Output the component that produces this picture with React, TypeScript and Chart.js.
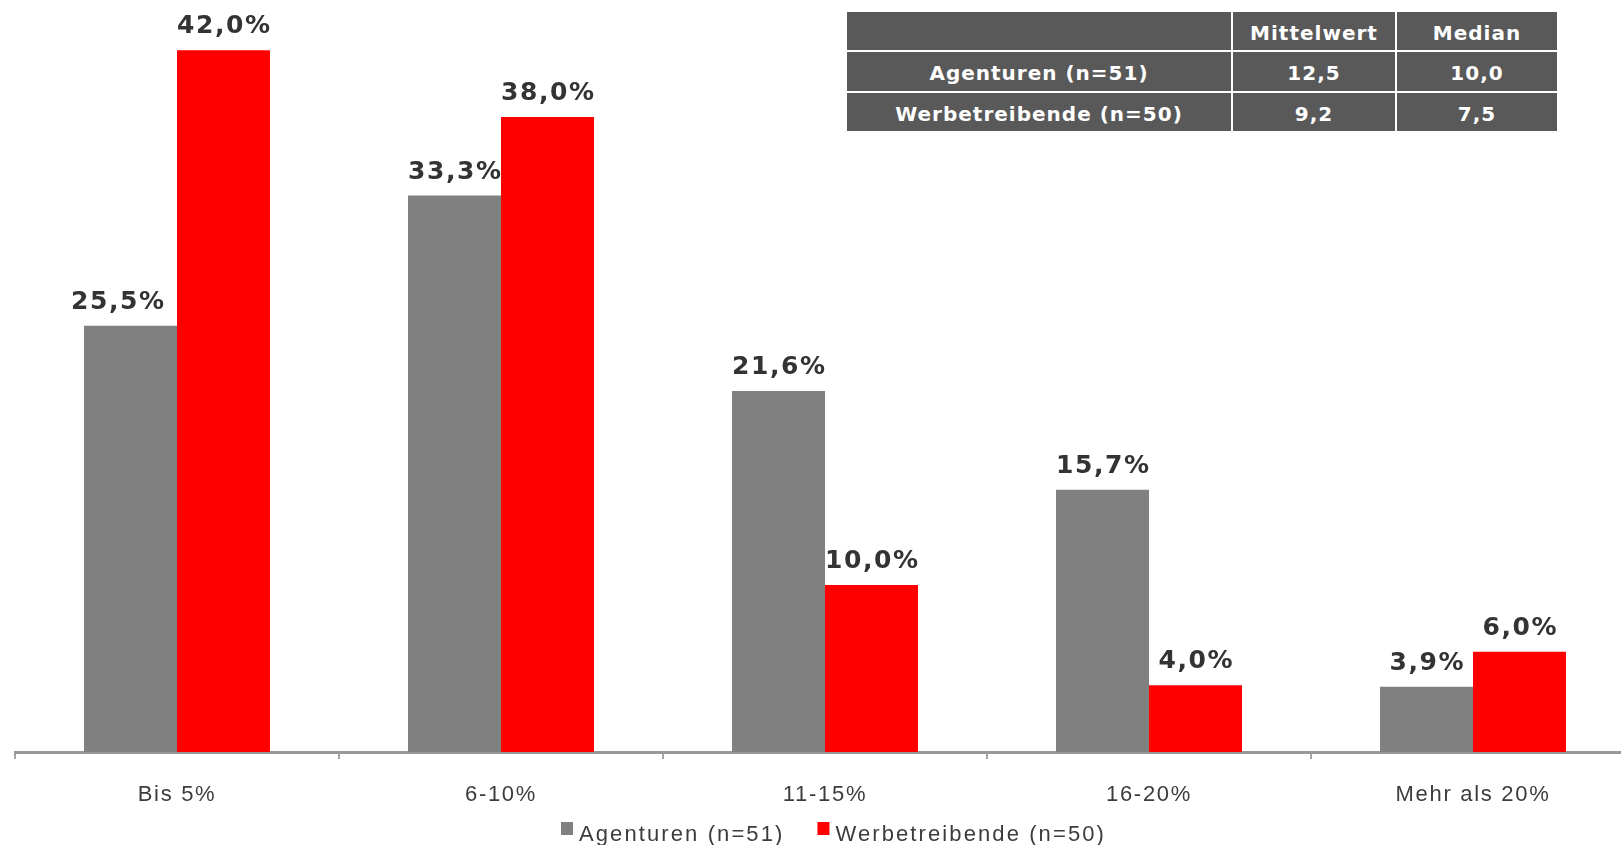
import React, { useEffect, useRef } from "react";
import { Chart, registerables } from "chart.js";

Chart.register(...registerables);

// ---- data ----
const categories = ["Bis 5%", "6-10%", "11-15%", "16-20%", "Mehr als 20%"];
const agenturenLabel = "Agenturen (n=51)";
const werbeLabel = "Werbetreibende (n=50)";
const agenturenValues = [25.5, 33.3, 21.6, 15.7, 3.9];
const werbeValues = [42.0, 38.0, 10.0, 4.0, 6.0];

const tableHeader = ["", "Mittelwert", "Median"];
const tableGroups = ["Agenturen (n=51)", "Werbetreibende (n=50)"];
const tableMean = ["12,5", "9,2"];
const tableMedian = ["10,0", "7,5"];

// ---- layout constants ----
const CANVAS_W = 1667;
const CANVAS_H = 845;
const TICK_FONT = "'Liberation Sans', Arial, sans-serif";
const LABEL_FONT = "'DejaVu Sans', Verdana, sans-serif";

const spacingPlugin = {
  id: "spacingPlugin",
  beforeLayout(chart: any) {
    chart.ctx.letterSpacing = "1.7px";
  },
  beforeDraw(chart: any) {
    chart.ctx.letterSpacing = "1.7px";
  },
};

const valueLabels = {
  id: "valueLabels",
  afterDatasetsDraw(chart: any) {
    const ctx = chart.ctx;
    ctx.save();
    ctx.font = `bold 25px ${LABEL_FONT}`;
    ctx.fillStyle = "#333333";
    ctx.textAlign = "center";
    ctx.textBaseline = "alphabetic";
    ctx.letterSpacing = "1.6px";
    chart.data.datasets.forEach((ds: any, di: number) => {
      const meta = chart.getDatasetMeta(di);
      meta.data.forEach((bar: any, i: number) => {
        const v = ds.data[i] as number;
        const otherDs = chart.data.datasets[1 - di];
        const other = otherDs ? (otherDs.data[i] as number) : 0;
        let dx = 0;
        if (di === 0 && other > v + 5) dx = -13;
        const text = v.toFixed(1).replace(".", ",") + "%";
        ctx.fillText(text, bar.x + dx + 0.8, bar.y - 17);
      });
    });
    ctx.restore();
  },
};

const bottomLegend = {
  id: "bottomLegend",
  afterDraw(chart: any) {
    const ctx = chart.ctx;
    ctx.save();
    ctx.font = `22px ${TICK_FONT}`;
    ctx.letterSpacing = "2.1px";
    ctx.textBaseline = "alphabetic";
    ctx.textAlign = "left";
    const items = chart.data.datasets.map((ds: any) => ({
      label: ds.label as string,
      color: ds.backgroundColor as string,
    }));
    const box = 12;
    const gapText = 6;
    const gapItem = 33;
    const widths = items.map((it: any) => ctx.measureText(it.label).width);
    const total =
      widths.reduce((a: number, w: number) => a + box + gapText + w, 0) +
      gapItem * (items.length - 1);
    let x = chart.width / 2 - total / 2;
    items.forEach((it: any, k: number) => {
      ctx.fillStyle = it.color;
      ctx.fillRect(x, 822, box, 13);
      ctx.fillStyle = "#3c3c3c";
      ctx.fillText(it.label, x + box + gapText, 841);
      x += box + gapText + widths[k] + gapItem;
    });
    ctx.restore();
  },
};

function StatsTable() {
  const cellBase: React.CSSProperties = {
    background: "#595959",
    color: "#ffffff",
    fontFamily: LABEL_FONT,
    fontWeight: "bold",
    fontSize: "20px",
    letterSpacing: "1px",
    display: "flex",
    alignItems: "center",
    justifyContent: "center",
    whiteSpace: "nowrap",
    paddingTop: "3px",
    boxSizing: "border-box",
  };
  const cells: React.ReactNode[] = [];
  tableHeader.forEach((h, i) =>
    cells.push(
      <div key={"h" + i} style={cellBase}>
        {h}
      </div>
    )
  );
  tableGroups.forEach((g, r) => {
    cells.push(
      <div key={"g" + r} style={cellBase}>
        {g}
      </div>
    );
    cells.push(
      <div key={"m" + r} style={cellBase}>
        {tableMean[r]}
      </div>
    );
    cells.push(
      <div key={"d" + r} style={cellBase}>
        {tableMedian[r]}
      </div>
    );
  });
  return (
    <div
      style={{
        position: "absolute",
        left: "847px",
        top: "12px",
        width: "710px",
        height: "119px",
        display: "grid",
        gridTemplateColumns: "384px 162px 160px",
        gridTemplateRows: "38px 39px 38px",
        gap: "2px",
        background: "#ffffff",
      }}
    >
      {cells}
    </div>
  );
}

export default function App() {
  const canvasRef = useRef<HTMLCanvasElement | null>(null);

  useEffect(() => {
    if (!canvasRef.current) return;
    const chart = new Chart(canvasRef.current, {
      type: "bar",
      data: {
        labels: categories,
        datasets: [
          {
            label: agenturenLabel,
            data: agenturenValues,
            backgroundColor: "#808080",
            borderWidth: 0,
            categoryPercentage: 0.574,
            barPercentage: 1.0,
          },
          {
            label: werbeLabel,
            data: werbeValues,
            backgroundColor: "#ff0000",
            borderWidth: 0,
            categoryPercentage: 0.574,
            barPercentage: 1.0,
          },
        ],
      },
      options: {
        responsive: false,
        animation: false,
        layout: { padding: { left: 15, right: 32, top: 0, bottom: 0 } },
        plugins: {
          legend: { display: false },
          tooltip: { enabled: false },
          title: { display: false },
        },
        scales: {
          x: {
            offset: true,
            grid: {
              display: true,
              drawOnChartArea: false,
              drawTicks: true,
              tickLength: 7,
              color: "#a6a6a6",
              lineWidth: 2,
              offset: true,
            },
            border: { display: true, color: "#999999", width: 3 },
            ticks: {
              color: "#3c3c3c",
              font: { family: TICK_FONT, size: 22 },
              padding: 23,
              maxRotation: 0,
              autoSkip: false,
            },
            afterFit: (s: any) => {
              s.height = 93;
            },
          },
          y: { display: false, min: 0, max: 45 },
        },
      },
      plugins: [spacingPlugin, valueLabels, bottomLegend],
    });
    return () => chart.destroy();
  }, []);

  return (
    <div
      style={{
        position: "fixed",
        left: 0,
        top: 0,
        width: "1621px",
        height: "845px",
        overflow: "hidden",
        background: "#ffffff",
      }}
    >
      <canvas
        ref={canvasRef}
        width={CANVAS_W}
        height={CANVAS_H}
        style={{
          position: "absolute",
          left: 0,
          top: 0,
          width: CANVAS_W + "px",
          height: CANVAS_H + "px",
        }}
      />
      <StatsTable />
    </div>
  );
}
